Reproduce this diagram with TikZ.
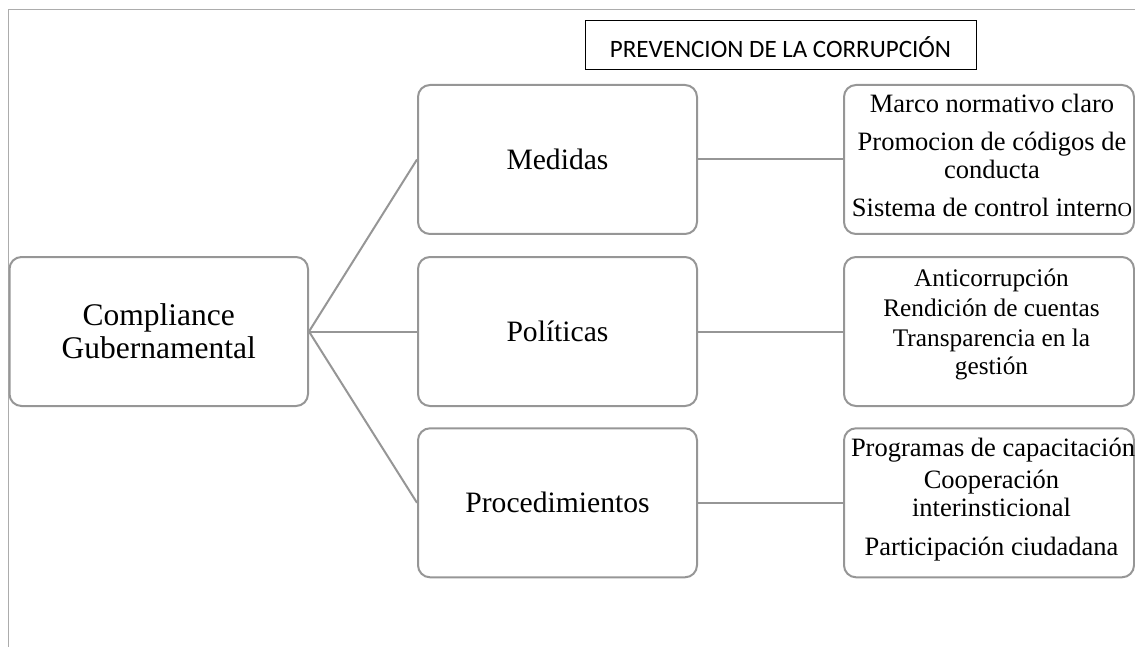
\documentclass[tikz,border=0pt]{standalone}
\usepackage{fontspec}
\setmainfont{Liberation Serif}
\newfontfamily\calibfont{Carlito}
\definecolor{boxgray}{RGB}{150,150,150}
\definecolor{framegray}{RGB}{172,172,172}
\begin{document}
\begin{tikzpicture}[x=1pt,y=-1pt,
  rbox/.style={draw=boxgray,line width=2pt,rounded corners=12pt,inner sep=0pt,align=center},
  midbox/.style={rbox,minimum width=279pt,minimum height=149pt,font=\fontsize{29.6}{33}\selectfont},
  rightbox/.style={rbox,minimum width=290pt,minimum height=149pt},
  link/.style={draw=boxgray,line width=2pt},
  itm/.style={anchor=base,inner sep=0pt,font=\fontsize{26.5}{28}\selectfont},
  itms/.style={anchor=base,inner sep=0pt,font=\fontsize{25.3}{27}\selectfont}
]
\useasboundingbox (0,0) rectangle (1135,647);
% frame
\draw[framegray,line width=1.5pt] (8.7,647) |- (1135,9.5);
% title
\node[draw=black,line width=0.8pt,minimum width=391pt,minimum height=48.3pt,inner sep=0pt,
      text height=25pt,text depth=0pt,
      font=\calibfont\fontsize{25}{28}\selectfont] (title) at (780.5,44.85) {PREVENCION DE LA CORRUPCIÓN};
% main boxes
\node[rbox,minimum width=298.5pt,minimum height=149pt,font=\fontsize{31.5}{33.4}\selectfont]
  (comp) at (158.75,331.5) {Compliance\\Gubernamental};
\node[midbox] (med) at (557.5,159.5) {Medidas};
\node[midbox] (pol) at (557.5,331.5) {Políticas};
\node[midbox] (proc) at (557.5,502.8) {Procedimientos};
\node[rightbox] (rmed) at (989,159.5) {};
\node[rightbox] (rpol) at (989,331.5) {};
\node[rightbox] (rproc) at (989,502.8) {};
% connectors
\draw[link] (comp.east) -- (med.west);
\draw[link] (comp.east) -- (pol.west);
\draw[link] (comp.east) -- (proc.west);
\draw[link] (med.east) -- (rmed.west);
\draw[link] (pol.east) -- (rpol.west);
\draw[link] (proc.east) -- (rproc.west);
% items
\node[itm] (m1) at (992,113) {Marco normativo claro};
\node[itm] (m2) at (992,150.7) {Promocion de códigos de};
\node[itm] (m3) at (992,178.5) {conducta};
\node[itm] (m4) at (992,216.7) {Sistema de control intern{\fontsize{20}{20}\selectfont O}};
\node[itms] (p1) at (991.5,286.7) {Anticorrupción};
\node[itms] (p2) at (991.5,316.7) {Rendición de cuentas};
\node[itms] (p3) at (991.5,346.7) {Transparencia en la};
\node[itms] (p4) at (991.5,374) {gestión};
\node[itm] (q1) at (993,456.7) {Programas de capacitación};
\node[itm] (q2) at (991.5,488.3) {Cooperación};
\node[itm] (q3) at (991.5,516.7) {interinsticional};
\node[itm] (q4) at (991.5,555) {Participación ciudadana};
\end{tikzpicture}
\end{document}
